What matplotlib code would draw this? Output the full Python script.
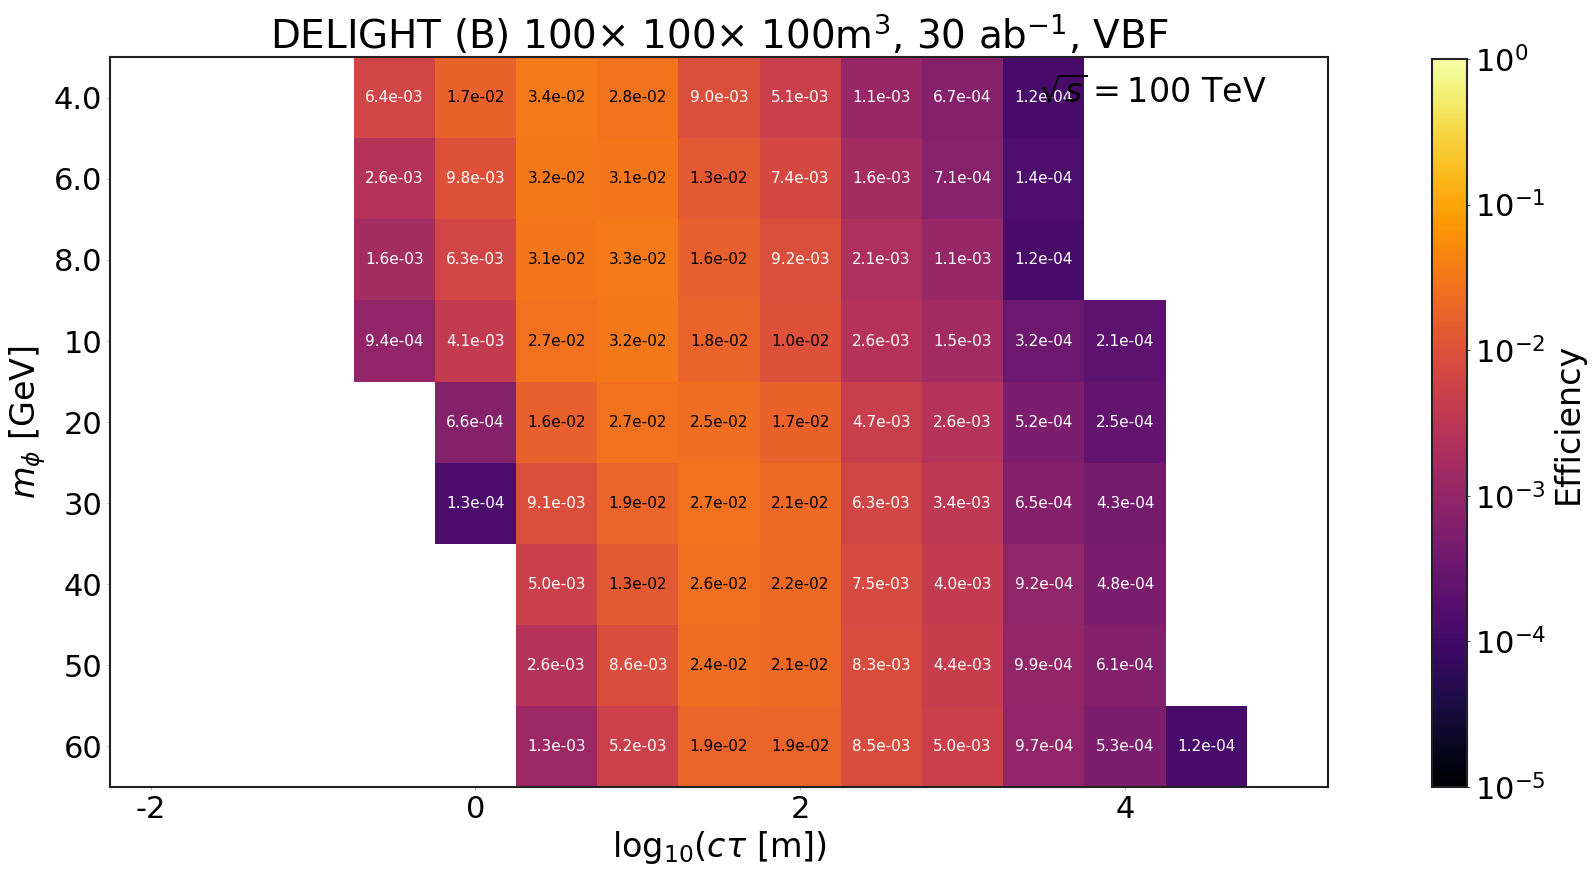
import numpy as np
import matplotlib
matplotlib.use("Agg")
import matplotlib.pyplot as plt
from matplotlib.colors import LogNorm

plt.rcParams['axes.unicode_minus'] = False

# lifetime bins (log10 c tau [m]) and mass rows
log_ctau = [-0.5, 0.0, 0.5, 1.0, 1.5, 2.0, 2.5, 3.0, 3.5, 4.0, 4.5]
mass_labels = ['4.0', '6.0', '8.0', '10', '20', '30', '40', '50', '60']

n = np.nan
eff_m4 = [6.4e-03, 1.7e-02, 3.4e-02, 2.8e-02, 9.0e-03, 5.1e-03, 1.1e-03, 6.7e-04, 1.2e-04, n, n]
eff_m6 = [2.6e-03, 9.8e-03, 3.2e-02, 3.1e-02, 1.3e-02, 7.4e-03, 1.6e-03, 7.1e-04, 1.4e-04, n, n]
eff_m8 = [1.6e-03, 6.3e-03, 3.1e-02, 3.3e-02, 1.6e-02, 9.2e-03, 2.1e-03, 1.1e-03, 1.2e-04, n, n]
eff_m10 = [9.4e-04, 4.1e-03, 2.7e-02, 3.2e-02, 1.8e-02, 1.0e-02, 2.6e-03, 1.5e-03, 3.2e-04, 2.1e-04, n]
eff_m20 = [n, 6.6e-04, 1.6e-02, 2.7e-02, 2.5e-02, 1.7e-02, 4.7e-03, 2.6e-03, 5.2e-04, 2.5e-04, n]
eff_m30 = [n, 1.3e-04, 9.1e-03, 1.9e-02, 2.7e-02, 2.1e-02, 6.3e-03, 3.4e-03, 6.5e-04, 4.3e-04, n]
eff_m40 = [n, n, 5.0e-03, 1.3e-02, 2.6e-02, 2.2e-02, 7.5e-03, 4.0e-03, 9.2e-04, 4.8e-04, n]
eff_m50 = [n, n, 2.6e-03, 8.6e-03, 2.4e-02, 2.1e-02, 8.3e-03, 4.4e-03, 9.9e-04, 6.1e-04, n]
eff_m60 = [n, n, 1.3e-03, 5.2e-03, 1.9e-02, 1.9e-02, 8.5e-03, 5.0e-03, 9.7e-04, 5.3e-04, 1.2e-04]

eff = np.array([eff_m4, eff_m6, eff_m8, eff_m10, eff_m20, eff_m30, eff_m40, eff_m50, eff_m60])

fig = plt.figure(figsize=(15.95, 8.9), dpi=100)
ax = fig.add_axes([0.069, 0.1157, 0.7636, 0.820])
cax = fig.add_axes([0.898, 0.1157, 0.022, 0.818])

x = np.array(log_ctau)
x_edges = np.append(x - 0.25, x[-1] + 0.25)
y_edges = np.arange(len(mass_labels) + 1) - 0.5
norm = LogNorm(vmin=1e-5, vmax=1)
mesh = ax.pcolormesh(x_edges, y_edges, np.ma.masked_invalid(eff), cmap='inferno', norm=norm)

for i in range(eff.shape[0]):
    for j in range(eff.shape[1]):
        v = eff[i, j]
        if np.isnan(v):
            continue
        ax.text(x[j], i, f"{v:.1e}", ha='center', va='center', fontsize=11,
                color='black' if v >= 1e-2 else 'white')

ax.set_xlim(-2.25, 5.25)
ax.set_ylim(len(mass_labels) - 0.5, -0.5)
ax.set_xticks([-2, 0, 2, 4])
ax.set_xticklabels(['-2', '0', '2', '4'])
ax.set_yticks(range(len(mass_labels)))
ax.set_yticklabels(mass_labels)
ax.tick_params(labelsize=22, length=2, width=0.5, color='#999999')
for s in ax.spines.values():
    s.set_linewidth(1.5)
    s.set_color('#222222')

ax.set_xlabel(r'$\mathrm{log}_{10}(c\tau\ [\mathrm{m}])$', fontsize=24)
ax.set_ylabel(r'$m_{\phi}$ [GeV]', fontsize=24)
ax.set_title(r'DELIGHT (B) $100{\times}$ $100{\times}$ $100\mathrm{m}^3$, 30 ab$^{-1}$, VBF',
             fontsize=28)
ax.text(0.95, 0.975, r'$\sqrt{s} = 100$ TeV', transform=ax.transAxes, ha='right', va='top', fontsize=24)

cb = fig.colorbar(mesh, cax=cax)
cb.set_label('Efficiency', fontsize=24)
cb.ax.tick_params(labelsize=22, length=2, width=0.5, which='both')
cb.ax.minorticks_off()
cb.outline.set_linewidth(1.5)
cb.outline.set_edgecolor('#222222')

fig.savefig('out.png', dpi=100)
